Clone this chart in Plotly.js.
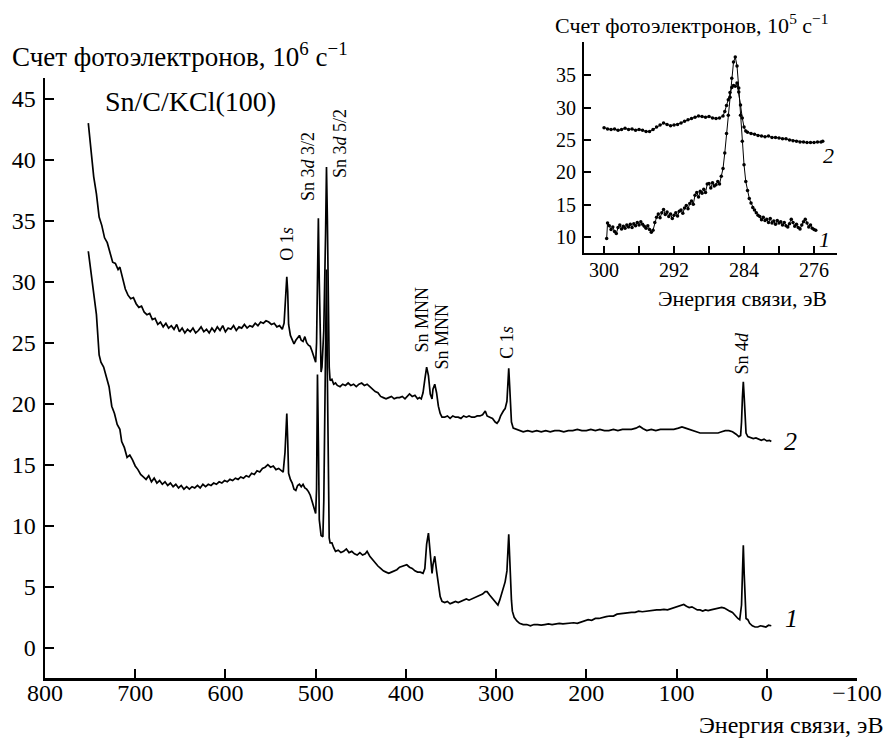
<!DOCTYPE html>
<html>
<head>
<meta charset="utf-8">
<script src="https://cdn.plot.ly/plotly-3.0.1.min.js"></script>
<style>html,body{margin:0;padding:0;background:#fff;}#chart{width:889px;height:738px;}</style>
</head>
<body>
<div id="chart"></div>
<script>
// ===== Main survey spectra (binding energy, eV ; counts, 10^6 s^-1) =====
const energy2 = [752,749,746,743,740,737,734,731,728,725,722,719,717,714,711,708,705,702,699,696,693,690,687,684,681,678,675,672,669,666,663,660,657,654,651,648,645,642,639,636,633,630,627,624,621,618,615,612,609,606,603,600,597,594,591,588,585,582,579,576,573,570,567,564,561,558,555,552,549,546,543,540,537,535,533,532,531,530,528,526,524,522,520,518,516,514,512,510,508,506,504,502,500,499,498,497,496,495,494,493,491,489,488,487,486,485,484,482,480,478,476,473,470,467,464,461,458,455,452,449,446,443,440,437,434,431,428,425,422,419,416,413,410,407,404,401,398,396,393,390,387,385,383,381,379,377,375,373,371,370,368,366,364,362,360,357,354,351,348,345,342,339,336,333,330,327,324,321,318,315,312,310,307,304,301,299,297,295,292,290,288,287,286,285,284,283,281,278,275,270,265,260,255,250,245,240,235,230,225,220,215,210,205,200,195,190,185,180,175,170,165,160,155,150,145,141,137,133,128,123,118,113,108,103,98,94,90,86,82,78,74,70,66,62,58,54,50,46,42,38,34,31,29,28,27,26,25,24,23,21,18,15,12,9,6,3,0,-3,-5];
const counts2 = [43.0,40.5,38.6,37.2,35.3,34.6,33.6,33.2,32.4,31.6,31.5,31.0,31.2,30.2,29.4,28.9,28.6,28.7,28.2,27.9,28.0,27.5,27.3,27.4,26.9,27.0,26.5,26.7,26.3,26.6,26.2,26.4,26.1,26.5,25.9,26.2,25.8,26.1,25.9,26.2,25.8,26.0,26.3,25.9,26.1,25.8,26.2,25.9,26.3,26.0,26.4,25.9,26.2,26.1,26.4,26.0,26.3,26.2,26.5,26.2,26.4,26.3,26.6,26.4,26.7,26.6,26.8,26.7,26.5,26.6,26.3,26.4,26.1,26.6,29.0,30.4,29.2,26.5,25.6,25.2,24.9,25.2,25.4,25.6,25.2,25.1,25.5,25.0,24.8,24.7,24.3,23.9,23.4,25.0,31.0,35.2,30.0,24.5,22.6,23.0,26.0,34.0,39.4,35.0,27.0,23.0,21.9,22.0,21.6,21.7,21.5,21.4,21.6,21.5,21.7,21.5,21.6,21.4,21.6,21.7,21.5,21.6,21.4,21.2,21.0,20.9,20.6,20.5,20.4,20.5,20.6,20.4,20.5,20.5,20.6,20.4,20.6,20.8,20.6,20.7,20.4,20.5,20.4,20.9,22.0,23.0,22.3,20.8,20.4,21.2,21.6,20.9,19.8,19.2,18.9,18.9,19.0,18.8,19.0,18.9,18.9,18.8,19.0,18.9,19.0,18.9,18.9,19.0,19.0,19.1,19.4,19.0,18.9,18.8,18.5,18.4,18.6,19.0,19.4,19.6,20.2,21.5,22.9,21.5,19.5,18.5,18.0,17.9,17.8,17.7,17.8,17.7,17.8,17.7,17.8,17.7,17.8,17.8,17.7,17.8,17.8,17.9,17.8,17.8,17.9,17.8,17.9,17.8,17.8,17.9,17.8,17.9,17.9,17.9,18.0,18.15,17.95,17.8,17.9,17.8,17.9,17.9,17.9,17.9,18.0,18.1,18.0,17.9,17.8,17.7,17.6,17.6,17.6,17.6,17.6,17.6,17.7,17.8,17.8,17.7,17.5,17.3,17.4,18.5,20.5,21.8,20.5,18.6,17.6,17.3,17.2,17.15,17.2,17.1,17.0,17.1,16.95,17.0,16.9];

const energy1 = [752,749,746,743,740,738,735,732,729,726,723,720,717,715,712,709,706,703,700,697,694,691,688,685,682,679,676,673,670,667,664,661,658,655,652,649,646,643,640,637,634,631,628,625,622,619,616,613,610,607,604,601,598,595,592,589,586,583,580,577,574,571,568,565,562,559,556,553,550,547,544,541,538,536,534,532,531,530,528,526,524,522,520,518,516,514,512,510,508,506,504,502,500,499,498,497,496,494,492,491,489,488,487,486,485,484,482,480,478,475,472,469,466,463,460,457,454,451,448,445,443,440,437,434,431,428,425,422,419,416,413,410,407,404,401,399,396,393,390,387,384,381,379,377,375,373,371,370,368,366,364,362,360,357,354,351,348,345,342,339,336,333,330,327,324,321,318,315,312,310,307,304,301,298,296,293,290,288,287,286,285,284,283,282,280,277,274,270,266,262,258,254,250,246,242,238,234,230,226,222,218,214,210,206,202,198,194,190,186,182,178,174,170,166,162,158,154,150,146,142,138,134,130,126,122,118,114,110,106,102,98,95,92,89,86,83,80,77,74,71,68,65,62,59,56,53,50,47,44,41,38,35,32,30,28,27,26,25,24,23,21,19,16,13,10,7,4,1,-2,-5];
const counts1 = [32.5,30.8,28.9,27.3,24.0,23.4,23.0,22.1,21.4,19.8,19.2,18.3,17.9,16.9,16.4,15.6,15.8,15.4,14.9,14.6,14.2,14.0,13.8,14.1,13.6,13.9,13.5,13.7,13.4,13.6,13.3,13.5,13.2,13.4,13.1,13.3,13.0,13.2,13.0,13.2,13.1,13.3,13.1,13.4,13.2,13.4,13.3,13.5,13.4,13.6,13.5,13.7,13.6,13.8,13.7,13.9,13.8,14.0,13.9,14.1,14.0,14.3,14.2,14.5,14.4,14.7,14.8,15.0,14.8,14.9,14.6,14.7,14.5,14.4,16.0,19.2,17.0,14.3,13.8,13.5,13.0,12.9,13.3,13.4,13.2,13.4,13.1,13.0,12.8,12.5,12.0,11.4,11.0,13.0,22.4,17.0,10.5,9.2,9.1,12.0,25.0,31.0,22.0,12.0,9.0,8.6,8.6,8.2,7.9,8.0,7.8,7.9,8.1,7.8,7.9,7.7,7.6,7.8,7.6,7.7,7.9,7.5,7.2,7.0,6.7,6.5,6.3,6.2,6.1,6.2,6.3,6.4,6.6,6.7,6.8,6.8,6.6,6.5,6.3,6.2,6.2,6.1,6.5,8.5,9.4,8.0,6.1,6.8,7.5,6.3,5.0,4.2,3.8,3.7,3.8,3.6,3.7,3.8,3.7,3.8,3.9,4.0,3.9,4.0,4.1,4.2,4.3,4.4,4.6,4.6,4.3,4.0,3.7,3.5,3.9,4.7,5.4,6.3,7.8,9.3,7.5,5.0,3.9,3.0,2.5,2.2,2.0,1.9,1.9,1.8,1.9,1.9,1.85,1.9,1.95,1.9,1.95,2.0,1.95,2.0,2.0,2.05,2.0,2.1,2.2,2.3,2.25,2.4,2.4,2.5,2.55,2.6,2.6,2.75,2.8,2.8,2.85,2.9,2.9,3.0,2.95,3.0,3.0,3.05,3.1,3.1,3.15,3.1,3.2,3.3,3.4,3.5,3.55,3.4,3.3,3.35,3.2,3.1,3.1,3.0,3.1,3.05,3.1,3.15,3.2,3.3,3.3,3.25,3.1,3.0,2.9,2.6,2.4,2.3,3.5,6.0,8.4,6.0,3.2,2.4,2.3,2.0,1.8,1.7,1.7,1.8,1.75,1.7,1.85,1.8];

// ===== Inset: C 1s region (binding energy, eV ; counts, 10^5 s^-1) =====
const insetEnergy2 = [300.0,299.6,299.2,298.8,298.4,298.0,297.6,297.2,296.8,296.4,296.0,295.6,295.2,294.8,294.4,294.0,293.6,293.2,292.8,292.4,292.0,291.6,291.2,290.8,290.4,290.0,289.6,289.2,288.8,288.4,288.0,287.6,287.2,286.8,286.4,286.2,286.0,285.8,285.6,285.4,285.2,285.0,284.8,284.6,284.4,284.2,284.0,283.8,283.6,283.2,282.8,282.4,282.0,281.6,281.2,280.8,280.4,280.0,279.6,279.2,278.8,278.4,278.0,277.6,277.2,276.8,276.4,276.0,275.6,275.2,275.0];
const insetCounts2 = [26.9,26.7,26.6,26.7,26.5,26.6,26.8,26.6,26.7,26.5,26.6,26.5,26.3,26.3,26.6,27.0,27.3,27.6,27.4,27.2,27.3,27.4,27.6,27.9,28.1,28.3,28.5,28.7,28.6,28.5,28.6,28.4,28.3,28.4,28.7,29.4,30.3,31.2,32.3,33.1,33.4,33.3,33.8,32.4,30.4,28.4,27.0,26.4,26.2,26.0,25.9,25.7,25.6,25.5,25.6,25.4,25.4,25.3,25.2,25.2,25.0,24.9,24.8,24.7,24.7,24.6,24.6,24.6,24.7,24.7,24.8];

const insetEnergy1 = [299.7,299.6,299.4,299.2,299.0,298.8,298.6,298.4,298.2,298.0,297.8,297.6,297.4,297.2,297.0,296.8,296.6,296.4,296.2,296.0,295.8,295.6,295.4,295.2,295.0,294.8,294.6,294.4,294.2,294.0,293.8,293.6,293.4,293.2,293.0,292.8,292.6,292.4,292.2,292.0,291.8,291.6,291.4,291.2,291.0,290.8,290.6,290.4,290.2,290.0,289.8,289.6,289.4,289.2,289.0,288.8,288.6,288.4,288.2,288.0,287.8,287.6,287.4,287.2,287.0,286.8,286.6,286.4,286.2,286.0,285.8,285.6,285.4,285.2,285.0,284.8,284.6,284.4,284.2,284.0,283.8,283.6,283.4,283.2,283.0,282.8,282.6,282.4,282.2,282.0,281.8,281.6,281.4,281.2,281.0,280.8,280.6,280.4,280.2,280.0,279.8,279.6,279.4,279.2,279.0,278.8,278.6,278.4,278.2,278.0,277.8,277.6,277.4,277.2,277.0,276.8,276.6,276.4,276.2,276.0,275.8];
const insetCounts1 = [9.8,12.2,11.8,11.2,11.6,10.9,10.6,11.5,11.9,11.3,11.7,11.4,11.9,11.6,12.0,11.5,12.1,11.8,12.3,11.9,12.4,12.0,11.7,11.4,11.8,11.2,10.8,11.1,12.3,13.1,13.6,13.0,13.8,14.3,13.5,13.9,13.2,13.6,12.9,13.4,13.8,13.3,14.0,14.2,13.7,14.5,14.9,14.4,15.2,15.6,15.1,16.5,16.9,16.2,17.1,16.8,17.4,16.9,18.2,18.3,17.6,18.4,17.9,18.1,18.6,18.2,19.4,20.6,23.0,26.0,28.8,31.6,34.5,37.0,37.8,36.4,33.0,28.8,24.8,21.2,18.6,17.2,16.0,15.3,14.6,14.2,13.8,13.4,13.2,12.7,13.1,12.6,12.8,12.3,12.9,12.2,12.5,12.0,12.6,12.2,12.4,11.9,12.3,11.8,11.6,12.1,12.8,12.3,11.7,12.0,11.5,11.3,11.9,12.4,12.8,12.2,11.6,11.9,11.4,11.2,11.1];

// ===== Tick labels =====
const mainXTicks = [800,700,600,500,400,300,200,100,0,-100];
const mainYTicks = [0,5,10,15,20,25,30,35,40,45];
const insetXTicks = [300,292,284,276];
const insetXMinor = [296,288,280];
const insetYTicks = [10,15,20,25,30,35];

// ===== Peak labels =====
const peakText = ['O 1<i>s</i>','Sn 3<i>d</i> 3/2','Sn 3<i>d</i> 5/2','Sn MNN','Sn MNN','C 1<i>s</i>','Sn 4<i>d</i>'];
const peakE = [532, 508.5, 473.0, 382.1, 360.0, 287.9, 26.4];
const peakV = [33.1, 39.4, 41.3, 26.9, 25.5, 25.0, 24.2];

const FONT = 'Liberation Serif, Times New Roman, serif';

const traces = [
  {x: energy2, y: counts2, type: 'scatter', mode: 'lines', line: {color: '#000', width: 1.7}, xaxis: 'x', yaxis: 'y', hoverinfo: 'skip'},
  {x: energy1, y: counts1, type: 'scatter', mode: 'lines', line: {color: '#000', width: 1.7}, xaxis: 'x', yaxis: 'y', hoverinfo: 'skip'},
  {x: insetEnergy2, y: insetCounts2, type: 'scatter', mode: 'lines+markers', line: {color: '#000', width: 1}, marker: {color: '#000', size: 3.5}, xaxis: 'x2', yaxis: 'y2', hoverinfo: 'skip'},
  {x: insetEnergy1, y: insetCounts1, type: 'scatter', mode: 'lines+markers', line: {color: '#000', width: 1}, marker: {color: '#000', size: 3.5}, xaxis: 'x2', yaxis: 'y2', hoverinfo: 'skip'}
];

const annotations = [];
for (let i = 0; i < peakText.length; i++) {
  annotations.push({x: peakE[i], y: peakV[i], xref: 'x', yref: 'y', text: peakText[i], textangle: -90,
    showarrow: false, font: {family: FONT, size: 18, color: '#000'}, xanchor: 'center', yanchor: 'middle'});
}
annotations.push(
  {x: -0.0431, y: 0.9796, xref: 'paper', yref: 'paper', xanchor: 'left', yanchor: 'middle', showarrow: false,
   text: 'Счет фотоэлектронов, 10<sup>6</sup> с<sup>−1</sup>', font: {family: FONT, size: 27, color: '#000'}},
  {x: 1.0345, y: -0.074, xref: 'paper', yref: 'paper', xanchor: 'right', yanchor: 'middle', showarrow: false,
   text: 'Энергия связи, эВ', font: {family: FONT, size: 24, color: '#000'}},
  {x: 0.0714, y: 0.9057, xref: 'paper', yref: 'paper', xanchor: 'left', yanchor: 'middle', showarrow: false,
   text: 'Sn/C/KCl(100)', font: {family: FONT, size: 28, color: '#000'}},
  {x: 0.6256, y: 1.0283, xref: 'paper', yref: 'paper', xanchor: 'left', yanchor: 'middle', showarrow: false,
   text: 'Счет фотоэлектронов, 10<sup>5</sup> с<sup>−1</sup>', font: {family: FONT, size: 22, color: '#000'}},
  {x: 0.859, y: 0.597, xref: 'paper', yref: 'paper', xanchor: 'center', yanchor: 'middle', showarrow: false,
   text: 'Энергия связи, эВ', font: {family: FONT, size: 22, color: '#000'}},
  {x: -26.5, y: 16.9, xref: 'x', yref: 'y', showarrow: false, text: '<i>2</i>', font: {family: FONT, size: 26, color: '#000'}},
  {x: -27.6, y: 2.43, xref: 'x', yref: 'y', showarrow: false, text: '<i>1</i>', font: {family: FONT, size: 26, color: '#000'}},
  {x: 0.974, y: 0.8436, xref: 'paper', yref: 'paper', showarrow: false, text: '<i>2</i>', font: {family: FONT, size: 22, color: '#000'}},
  {x: 0.9698, y: 0.7123, xref: 'paper', yref: 'paper', showarrow: false, text: '<i>1</i>', font: {family: FONT, size: 22, color: '#000'}}
);

const layout = {
  width: 889, height: 738,
  margin: {l: 45, r: 32, t: 42, b: 60},
  paper_bgcolor: '#fff', plot_bgcolor: 'rgba(0,0,0,0)',
  showlegend: false,
  font: {family: FONT, color: '#000'},
  xaxis: {domain: [0, 1], range: [800, -100], anchor: 'y', tickvals: mainXTicks, ticks: 'inside', ticklen: 9, tickwidth: 2,
    tickcolor: '#000', showline: true, linecolor: '#000', linewidth: 2.5, showgrid: false, zeroline: false,
    tickfont: {family: FONT, size: 24, color: '#000'}, ticklabelstandoff: -8},
  yaxis: {domain: [0, 0.9434], range: [-2.48, 46.7], anchor: 'x', tickvals: mainYTicks, ticks: 'inside', ticklen: 9, tickwidth: 2,
    tickcolor: '#000', showline: true, linecolor: '#000', linewidth: 2.5, showgrid: false, zeroline: false,
    tickfont: {family: FONT, size: 24, color: '#000'}, ticklabelstandoff: 2},
  xaxis2: {domain: [0.6638, 0.9754], range: [302.29, 273.37], anchor: 'y2', tickvals: insetXTicks,
    ticks: 'inside', ticklen: 7, tickwidth: 2, tickcolor: '#000', showline: true, linecolor: '#000', linewidth: 2,
    minor: {tickvals: insetXMinor, ticks: 'inside', ticklen: 7, tickwidth: 2, tickcolor: '#000', showgrid: false},
    showgrid: false, zeroline: false, tickfont: {family: FONT, size: 20, color: '#000'}, ticklabelstandoff: -2},
  yaxis2: {domain: [0.6682, 1], range: [7.58, 40.1], anchor: 'x2', tickvals: insetYTicks, ticks: 'inside', ticklen: 7, tickwidth: 2,
    tickcolor: '#000', showline: true, linecolor: '#000', linewidth: 2, showgrid: false, zeroline: false,
    tickfont: {family: FONT, size: 20, color: '#000'}, ticklabelstandoff: 2},
  annotations: annotations
};

Plotly.newPlot('chart', traces, layout, {staticPlot: true, displayModeBar: false});
</script>
</body>
</html>
